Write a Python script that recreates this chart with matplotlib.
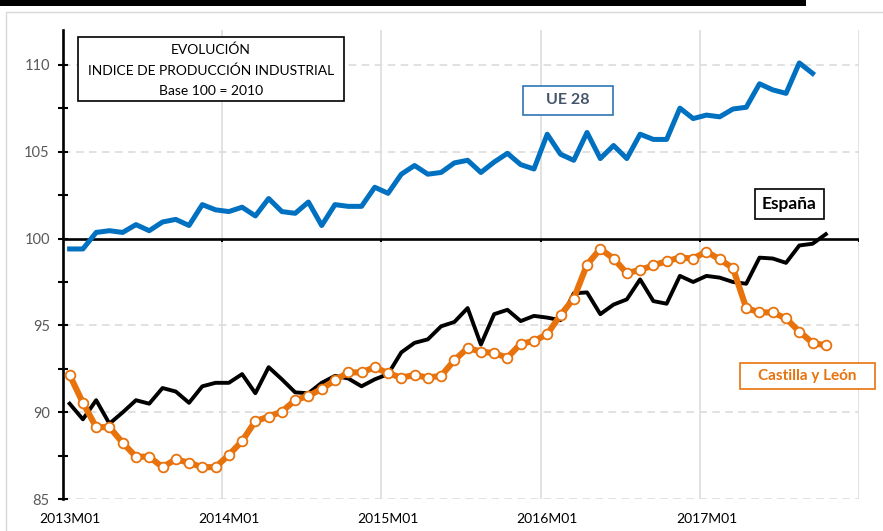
import matplotlib
matplotlib.use('Agg')
import matplotlib.pyplot as plt
from matplotlib.patches import Rectangle

# ---- data -------------------------------------------------------------
ue28 = [99.4, 99.4, 100.35, 100.45, 100.35, 100.8, 100.45, 100.95, 101.1, 100.75,
        101.95, 101.65, 101.55, 101.8, 101.3, 102.3, 101.55, 101.45, 102.1, 100.75,
        101.95, 101.85, 101.85, 102.95, 102.6, 103.7, 104.2, 103.7, 103.8, 104.35,
        104.5, 103.8, 104.4, 104.9, 104.25, 104.0, 106.0, 104.85, 104.5, 106.1,
        104.6, 105.35, 104.6, 106.0, 105.7, 105.7, 107.5, 106.9, 107.1, 107.0,
        107.45, 107.55, 108.9, 108.55, 108.35, 110.1, 109.5]

espana = [90.5, 89.6, 90.7, 89.35, 90.0, 90.7, 90.5, 91.4, 91.2, 90.55,
          91.5, 91.7, 91.7, 92.2, 91.1, 92.6, 91.9, 91.15, 91.1, 91.7,
          92.1, 91.95, 91.5, 91.9, 92.2, 93.45, 94.0, 94.2, 94.95, 95.2,
          96.0, 93.9, 95.65, 95.9, 95.25, 95.55, 95.45, 95.3, 96.85, 96.9,
          95.65, 96.2, 96.5, 97.65, 96.4, 96.25, 97.85, 97.5, 97.85, 97.75,
          97.5, 97.4, 98.9, 98.85, 98.6, 99.6, 99.7, 100.25]

castilla_leon = [92.15, 90.55, 89.15, 89.15, 88.25, 87.45, 87.45, 86.85, 87.3, 87.1,
                 86.85, 86.85, 87.55, 88.35, 89.5, 89.75, 90.05, 90.7, 90.95, 91.35,
                 91.85, 92.3, 92.3, 92.6, 92.25, 92.0, 92.15, 92.0, 92.1, 93.0,
                 93.7, 93.5, 93.4, 93.15, 93.95, 94.1, 94.5, 95.6, 96.55, 98.5,
                 99.4, 98.85, 98.0, 98.2, 98.45, 98.7, 98.9, 98.85, 99.25, 98.8,
                 98.3, 96.0, 95.75, 95.75, 95.4, 94.65, 94.0, 93.85]

tick_labels = ['2013M01', '2014M01', '2015M01', '2016M01', '2017M01']
n_months = 60
y_major = [85, 90, 95, 100, 105, 110]

# ---- figure -----------------------------------------------------------
W, H = 883, 531
plt.rcParams['font.family'] = ['Lato', 'DejaVu Sans']
fig = plt.figure(figsize=(W / 100, H / 100), dpi=100)
fig.patch.set_facecolor('white')


def fbox(x0, y0, x1, y1):
    return (x0 / W, 1 - y1 / H), (x1 - x0) / W, (y1 - y0) / H


def add_box(x0, y0, x1, y1, ec, lw=1.2, fc='white', z=10):
    xy, w, h = fbox(x0, y0, x1, y1)
    r = Rectangle(xy, w, h, transform=fig.transFigure, fc=fc, ec=ec, lw=lw, zorder=z)
    fig.add_artist(r)


# outer chart border and top black bar
add_box(6, 12, W + 5, H + 5, ec='#D9D9D9', lw=1.0, fc='none', z=-1)
add_box(0, 0, 806, 6, ec='none', lw=0, fc='black', z=-1)

ax = fig.add_axes([63 / W, 31.7 / H, 796 / W, 469.4 / H])
ax.patch.set_visible(False)
ax.set_xlim(-0.5, n_months - 0.5)
ax.set_ylim(85, 112)

# gridlines
for v in y_major:
    if v != 100:
        ax.axhline(v, color='#D9D9D9', lw=1.1, ls=(0, (5, 3.5)), zorder=1)
year_bounds = [b - 0.5 for b in range(12, n_months + 1, 12)]
for b in year_bounds:
    ax.axvline(b, color='#DDDDDD', lw=1.2, zorder=1)

# horizontal axis crossing at 100
ax.axhline(100, color='black', lw=1.9, zorder=2)
ax.vlines([-0.5] + year_bounds, 99.78, 100, color='black', lw=1.5, zorder=2)

# series
ax.plot(range(len(ue28)), ue28, color='#0070C0', lw=3.6, zorder=3)
ax.plot(range(len(espana)), espana, color='black', lw=2.8, zorder=4)
ax.plot(range(len(castilla_leon)), castilla_leon, color='#E8720C', lw=4.4,
        marker='o', ms=7.0, mfc='white', mec='#E8720C', mew=1.3, zorder=5)

# axes styling
for s in ['top', 'right', 'bottom']:
    ax.spines[s].set_visible(False)
ax.spines['left'].set_linewidth(1.9)
ax.spines['left'].set_color('black')
ax.set_yticks(y_major)
ax.set_yticks([v + 2.5 for v in y_major[:-1]], minor=True)
ax.tick_params(axis='y', which='both', direction='inout', length=7, width=1.5,
               color='black', labelcolor='#595959', labelsize=10.5, pad=6)
ax.set_xticks(list(range(0, n_months, 12)), tick_labels)
ax.tick_params(axis='x', length=0, labelsize=10, labelcolor='black', pad=10)

# annotation boxes
add_box(78, 37, 344, 101, ec='black', lw=1.2)
fig.text(211 / W, 1 - 50 / H, 'EVOLUCIÓN', ha='center', va='center', fontsize=10, zorder=11)
fig.text(211 / W, 1 - 70.5 / H, 'INDICE DE PRODUCCIÓN INDUSTRIAL', ha='center', va='center',
         fontsize=10, zorder=11)
fig.text(211 / W, 1 - 91 / H, 'Base 100 = 2010', ha='center', va='center', fontsize=10, zorder=11)

add_box(523, 86, 613, 115, ec='#2E75B6', lw=1.2)
fig.text(568 / W, 1 - 100.5 / H, 'UE 28', ha='center', va='center', fontsize=11.5,
         fontweight='bold', color='#44546A', zorder=11)

add_box(755, 189, 824, 219, ec='black', lw=1.2)
fig.text(789.5 / W, 1 - 204 / H, 'España', ha='center', va='center', fontsize=12.5,
         fontweight='bold', color='black', zorder=11)

add_box(740, 363, 875, 389, ec='#E8720C', lw=1.2)
fig.text(807.5 / W, 1 - 376 / H, 'Castilla y León', ha='center', va='center', fontsize=11,
         fontweight='bold', color='#E8720C', zorder=11)

fig.savefig('out.png', dpi=100)
